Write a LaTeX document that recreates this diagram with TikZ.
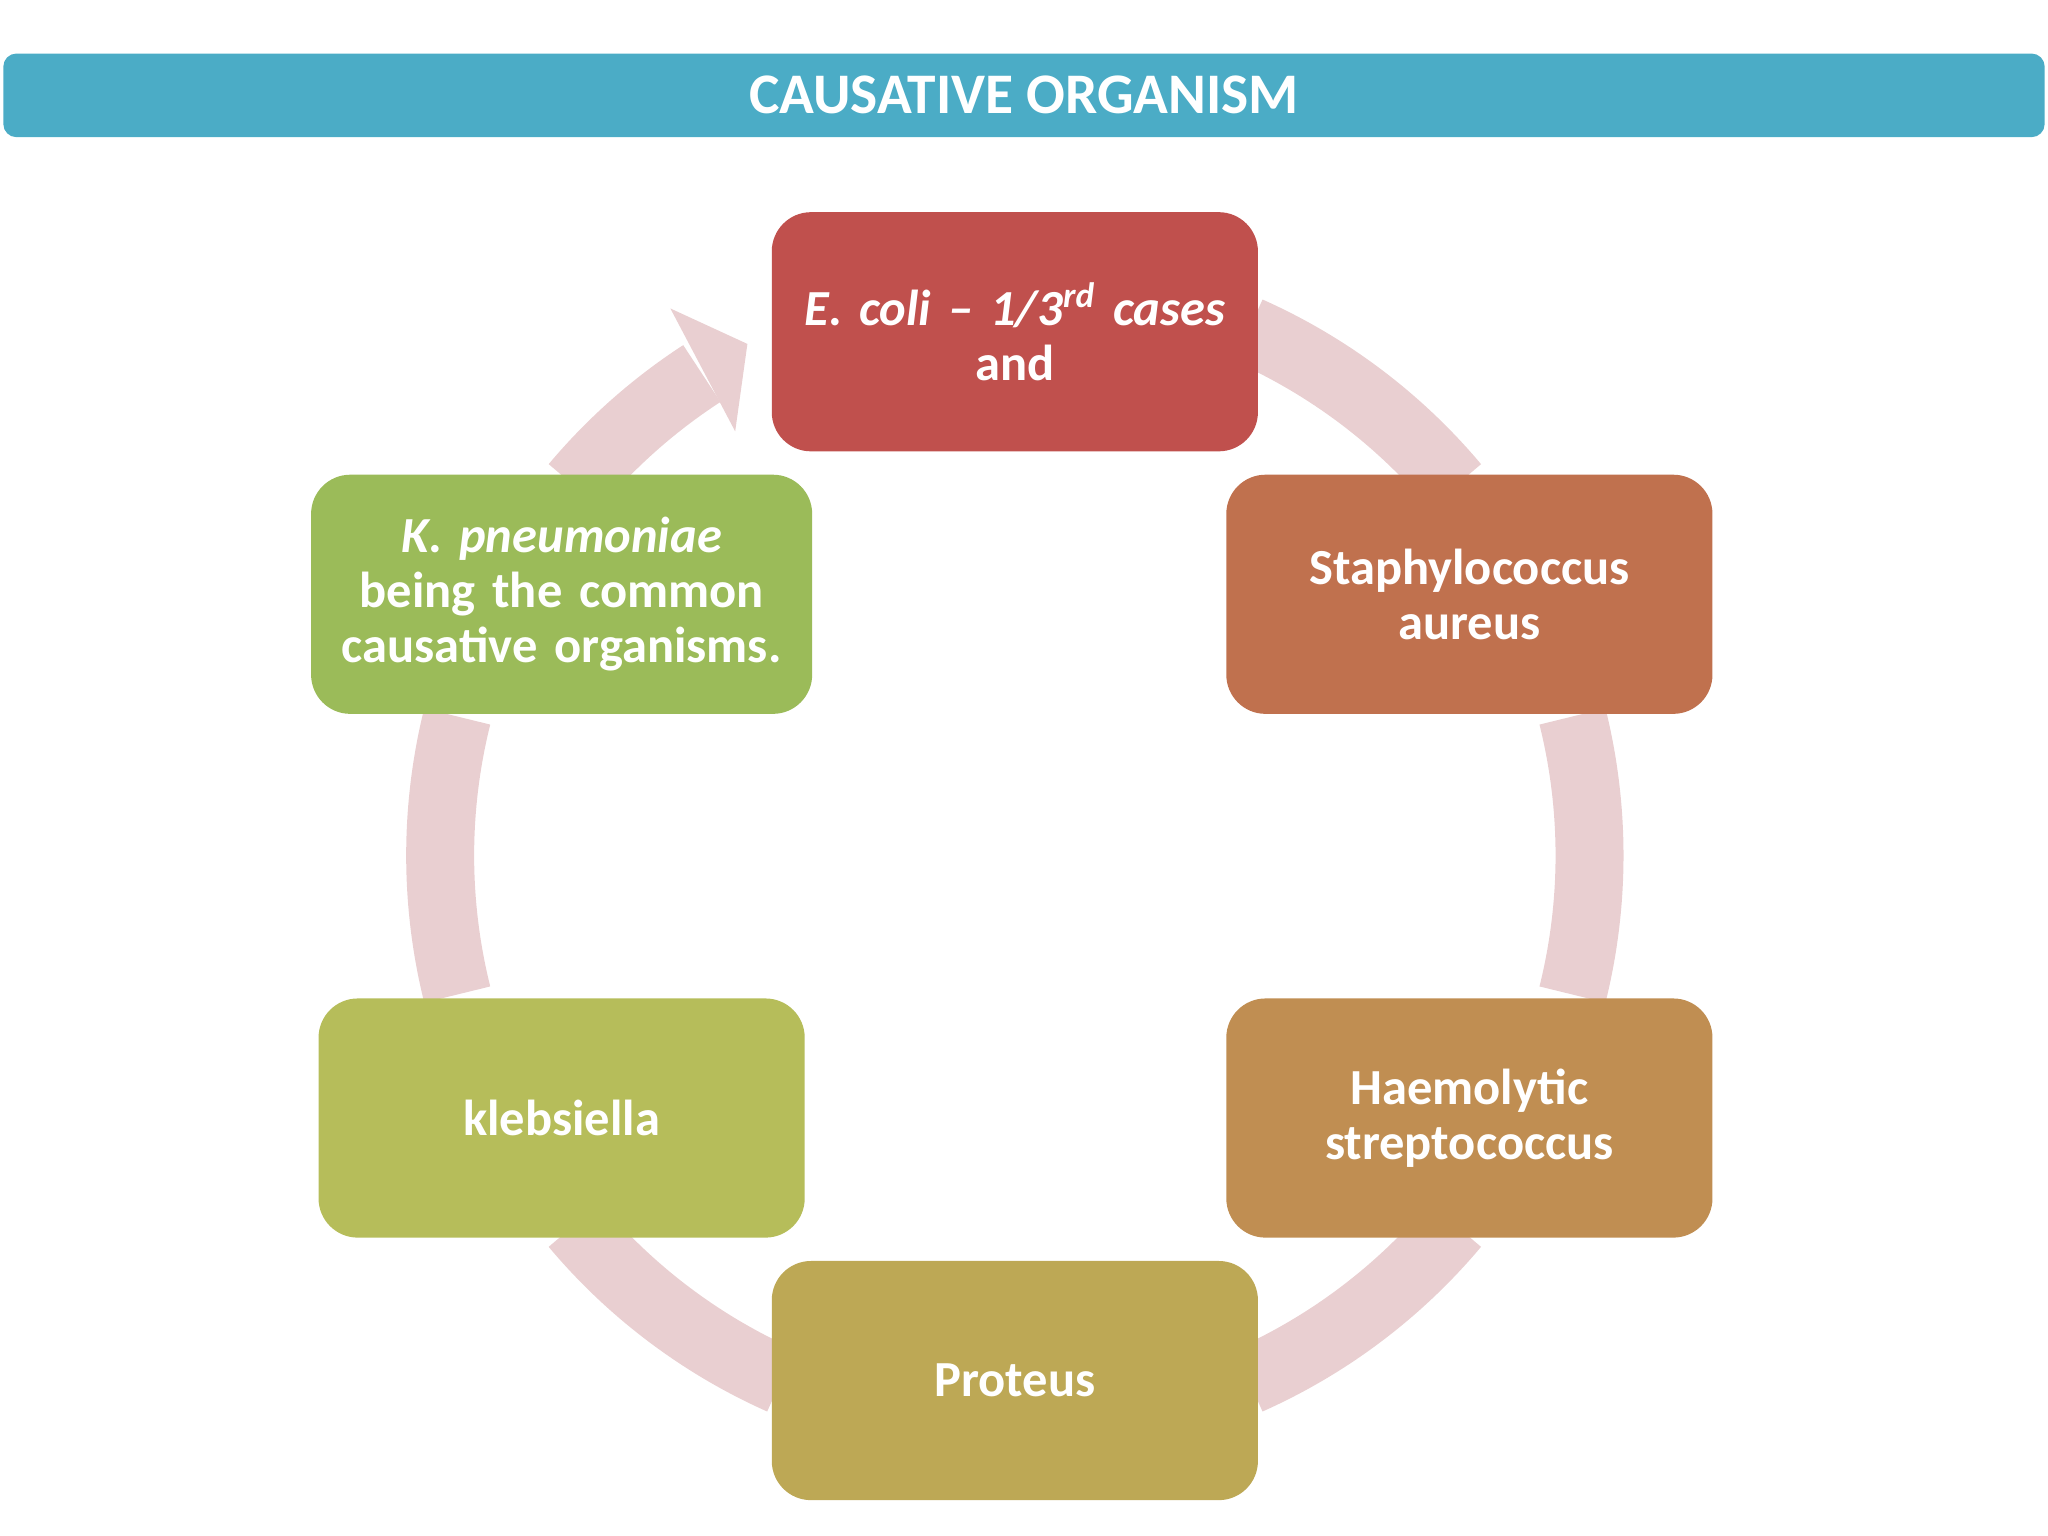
\documentclass[tikz,border=0pt]{standalone}
\usepackage{fontspec}
\setmainfont{Carlito}
\usetikzlibrary{positioning}
\definecolor{barblue}{HTML}{4BACC6}
\definecolor{ringpink}{HTML}{E9CFD1}
\definecolor{cred}{HTML}{C0504D}
\definecolor{corange}{HTML}{C0714E}
\definecolor{cbrown}{HTML}{C08E52}
\definecolor{cgold}{HTML}{BDA855}
\definecolor{colive}{HTML}{B6BD5A}
\definecolor{cgreen}{HTML}{9BBB59}
\tikzset{
  organism/.style={draw=none, rounded corners=0.3cm, minimum width=3.72cm, minimum height=1.83cm,
    text width=3.4cm, align=center, text=white, font=\fontsize{11}{12}\selectfont\bfseries},
  ring/.style={ringpink, line width=0.52cm}
}
\begin{document}
\begin{tikzpicture}[x=0.01cm, y=-0.01cm]
    \useasboundingbox (0,0) rectangle (1568,1176);
    \coordinate (O) at (777,655);
    % ring segments
    \draw[ring] ([shift={(-66:440)}]O) arc[start angle=-66, end angle=-40, radius=440];
    \draw[ring] ([shift={(-14:440)}]O) arc[start angle=-14, end angle=14, radius=440];
    \draw[ring] ([shift={(40:440)}]O) arc[start angle=40, end angle=66, radius=440];
    \draw[ring] ([shift={(114:440)}]O) arc[start angle=114, end angle=140, radius=440];
    \draw[ring] ([shift={(166:440)}]O) arc[start angle=166, end angle=194, radius=440];
    \draw[ring] ([shift={(220:440)}]O) arc[start angle=220, end angle=237, radius=440];
    \fill[ringpink] ([shift={(237.8:495)}]O) -- ([shift={(242.4:442)}]O) -- ([shift={(236.6:389)}]O) -- cycle;
    % header
    \node[fill=barblue, rounded corners=0.1cm, minimum width=15.62cm, minimum height=0.64cm,
      text=white, font=\fontsize{12.5}{14}\selectfont\bfseries] (title) at (784,73) {CAUSATIVE ORGANISM};
    % boxes
    \node[organism, fill=cred] (ecoli) at (777,254) {\textit{E. coli – 1/3\textsuperscript{rd} cases}\\ and};
    \node[organism, fill=corange] (staph) at (1125,455) {Staphylococcus aureus};
    \node[organism, fill=cbrown] (strep) at (1125,856) {Haemolytic streptococcus};
    \node[organism, fill=cgold] (proteus) at (777,1057) {Proteus};
    \node[organism, fill=colive] (kleb) at (430,856) {klebsiella};
    \node[organism, fill=cgreen, text width=3.6cm] (kpneu) at (430,455) {\textit{K. pneumoniae} being the common causative organisms.};
\end{tikzpicture}
\end{document}
